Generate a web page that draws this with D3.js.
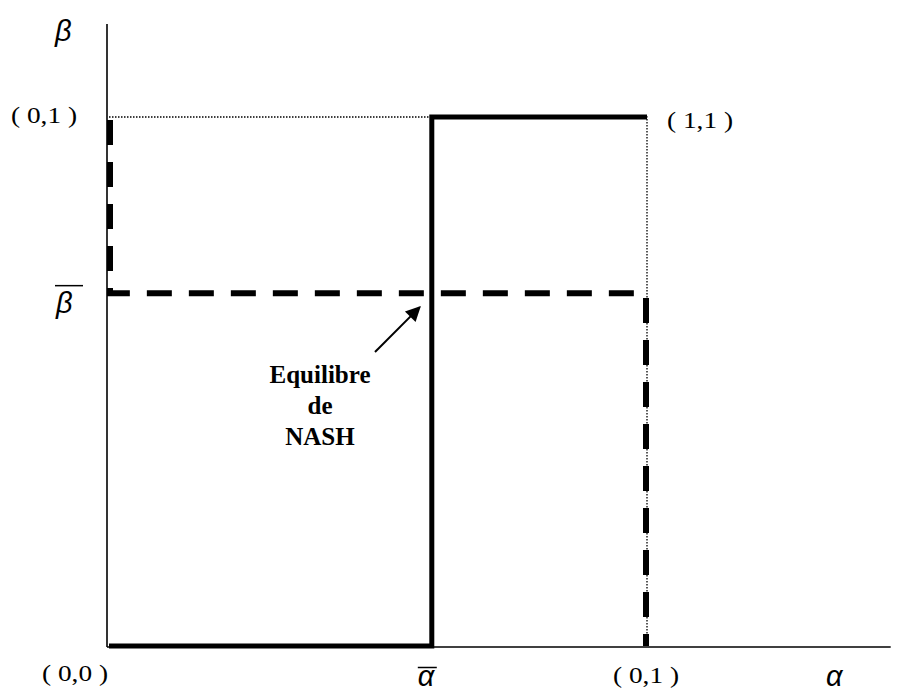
<!DOCTYPE html>
<html>
<head>
<meta charset="utf-8">
<script src="https://cdn.jsdelivr.net/npm/d3@7"></script>
<style>
  html, body { margin: 0; padding: 0; background: #fff; }
  svg { display: block; }
  text { white-space: pre; }
</style>
</head>
<body>
<svg id="chart" width="901" height="691"></svg>
<script>
// ---- data ----
const alphaBar = 0.6;          // player 1 mixed-strategy threshold
const betaBar = 0.667;         // player 2 mixed-strategy threshold
const responseAlpha = [[0, 0], [alphaBar, 0], [alphaBar, 1], [1, 1]];   // solid best response
const responseBeta = [[0, 1], [0, betaBar], [1, betaBar], [1, 0]];      // dashed best response
const guideLine = [[0, 1], [1, 1], [1, 0]];                             // dotted box
const cornerLabels = [
  { text: "( 0,1 )", pos: [0, 1], dx: -98, dy: 6 },
  { text: "( 1,1 )", pos: [1, 1], dx: 20, dy: 11 },
  { text: "( 0,0 )", pos: [0, 0], dx: -67, dy: 35 },
  { text: "( 0,1 )", pos: [1, 0], dx: -34, dy: 37 }
];
const annotationLines = ["Equilibre", "de", "NASH"];
const axisExtent = { x: 1.453, y: 1.176 };

// ---- scales ----
const x = d3.scaleLinear().domain([0, 1]).range([109, 647]);
const y = d3.scaleLinear().domain([0, 1]).range([646, 117]);

const svg = d3.select("#chart");
const line = d3.line().x(d => x(d[0])).y(d => y(d[1]));

// axes (plain lines, no ticks)
svg.append("line")
  .attr("x1", x(0) - 2).attr("x2", x(0) - 2)
  .attr("y1", y(0) + 1).attr("y2", y(axisExtent.y))
  .attr("stroke", "#000").attr("stroke-width", 1.6);
svg.append("line")
  .attr("x1", x(0) - 2).attr("x2", x(axisExtent.x))
  .attr("y1", y(0) + 1).attr("y2", y(0) + 1)
  .attr("stroke", "#000").attr("stroke-width", 1.6);

// dotted guide
svg.append("path")
  .attr("d", line(guideLine))
  .attr("fill", "none").attr("stroke", "#000")
  .attr("stroke-width", 1.3).attr("stroke-dasharray", "1.5,1.5");

// solid best response
svg.append("path")
  .attr("d", line(responseAlpha))
  .attr("fill", "none").attr("stroke", "#000")
  .attr("stroke-width", 5).attr("stroke-linejoin", "miter");

// dashed best response
svg.append("path")
  .attr("d", d3.line().x(d => x(d[0]) + (d[0] === 1 ? -1 : 1)).y(d => y(d[1]) + (d[1] === 1 ? 3 : 0))(responseBeta))
  .attr("fill", "none").attr("stroke", "#000")
  .attr("stroke-width", 6).attr("stroke-dasharray", "25,17")
  .attr("stroke-linejoin", "miter");

// axis titles
const greek = "'Liberation Sans', Arial, sans-serif";
const serif = "'Liberation Serif', 'Times New Roman', serif";

svg.append("text").attr("x", 55).attr("y", 41)
  .attr("font-family", greek).attr("font-style", "italic").attr("font-size", 29)
  .text("β");
svg.append("text").attr("x", 826).attr("y", 686)
  .attr("font-family", greek).attr("font-style", "italic").attr("font-size", 29)
  .text("α");

// beta bar label
svg.append("text").attr("x", 56).attr("y", y(betaBar) + 20)
  .attr("font-family", greek).attr("font-style", "italic").attr("font-size", 29)
  .text("β");
svg.append("line").attr("x1", 55).attr("x2", 83)
  .attr("y1", y(betaBar) - 7.5).attr("y2", y(betaBar) - 7.5)
  .attr("stroke", "#000").attr("stroke-width", 1.5);

// alpha bar label
svg.append("text").attr("x", x(alphaBar) - 14).attr("y", 686)
  .attr("font-family", greek).attr("font-style", "italic").attr("font-size", 29)
  .text("α");
svg.append("line").attr("x1", x(alphaBar) - 14).attr("x2", x(alphaBar) + 5)
  .attr("y1", 667.5).attr("y2", 667.5)
  .attr("stroke", "#000").attr("stroke-width", 1.5);

// corner labels
svg.selectAll("text.corner").data(cornerLabels).enter().append("text")
  .attr("class", "corner")
  .attr("x", d => x(d.pos[0]) + d.dx)
  .attr("y", d => y(d.pos[1]) + d.dy)
  .attr("text-anchor", "start")
  .attr("font-family", serif).attr("font-size", 23)
  .attr("textLength", 66).attr("lengthAdjust", "spacingAndGlyphs")
  .text(d => d.text);

// annotation
svg.append("defs").append("marker")
  .attr("id", "arrow").attr("viewBox", "0 0 10 10")
  .attr("refX", 9).attr("refY", 5)
  .attr("markerWidth", 9).attr("markerHeight", 7.5)
  .attr("markerUnits", "strokeWidth")
  .attr("orient", "auto")
  .append("path").attr("d", "M0,0 L10,5 L0,10 Z").attr("fill", "#000");

svg.append("line")
  .attr("x1", 375).attr("y1", 352)
  .attr("x2", x(alphaBar) - 12).attr("y2", y(betaBar) + 14)
  .attr("stroke", "#000").attr("stroke-width", 2)
  .attr("marker-end", "url(#arrow)");

svg.selectAll("text.note").data(annotationLines).enter().append("text")
  .attr("class", "note")
  .attr("x", 320)
  .attr("y", (d, i) => 383 + i * 31)
  .attr("text-anchor", "middle")
  .attr("font-family", serif).attr("font-weight", "bold").attr("font-size", 25)
  .text(d => d);
</script>
</body>
</html>
